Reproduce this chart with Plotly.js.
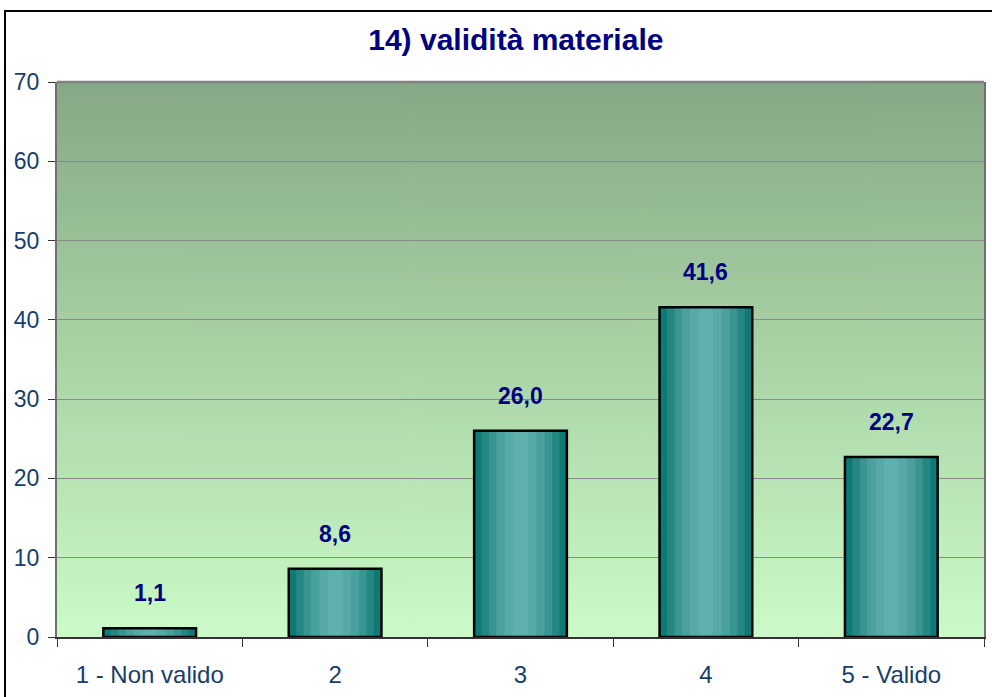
<!DOCTYPE html>
<html>
<head>
<meta charset="utf-8">
<script src="https://cdn.plot.ly/plotly-3.0.1.min.js"></script>
<style>
  body { margin: 0; background: #fff; }
  #chart { width: 992px; height: 697px; }
  #frame { position: absolute; left: 4px; top: 10px; width: 1000px; height: 700px;
           border: 2px solid #000; pointer-events: none; }
</style>
</head>
<body>
<div id="chart"></div>
<div id="frame"></div>
<script>
const categories = ['1 - Non valido', '2', '3', '4', '5 - Valido']
const values = [1.1, 8.6, 26.0, 41.6, 22.7]
const chartTitle = '14) validità materiale'

const sans = 'Liberation Sans, Arial'

// background gradient for the plot area
function makeGradient() {
    const c = document.createElement('canvas')
    c.width = 4
    c.height = 256
    const ctx = c.getContext('2d')
    const g = ctx.createLinearGradient(0, 0, 0, 256)
    g.addColorStop(0, 'rgb(134,168,134)')
    g.addColorStop(0.5, 'rgb(170,212,166)')
    g.addColorStop(1, 'rgb(204,250,200)')
    ctx.fillStyle = g
    ctx.fillRect(0, 0, 4, 256)
    return c.toDataURL()
}

// bars faked as a horizontal gradient: stacked overlay bars getting narrower and lighter
const bands = [
    { width: 0.5, color: '#0d7a76' },
    { width: 0.42, color: '#248783' },
    { width: 0.34, color: '#3a948f' },
    { width: 0.26, color: '#4aa09c' },
    { width: 0.17, color: '#56a9a5' },
    { width: 0.08, color: '#5fb0ac' }
]
const traces = bands.map(b => ({
    type: 'bar',
    x: categories,
    y: values,
    width: b.width,
    marker: { color: b.color, line: { width: 0 } },
    hoverinfo: 'skip'
}))
traces.push({
    type: 'bar',
    x: categories,
    y: values,
    width: 0.5,
    marker: { color: 'rgba(0,0,0,0)', line: { color: '#000', width: 2.5 } },
    hoverinfo: 'skip'
})

const fmt = v => v.toFixed(1).replace('.', ',')
const labels = categories.map((c, i) => ({
    x: i,
    y: values[i],
    text: '<b>' + fmt(values[i]) + '</b>',
    showarrow: false,
    yanchor: 'bottom',
    yshift: 20,
    font: { family: sans, size: 23, color: '#000080' }
}))

Plotly.newPlot(
    document.getElementById('chart'),
    traces,
    {
        width: 992,
        height: 697,
        margin: { l: 57, r: 8, t: 82, b: 60 },
        paper_bgcolor: '#fff',
        plot_bgcolor: 'rgba(0,0,0,0)',
        barmode: 'overlay',
        showlegend: false,
        title: {
            text: '<b>' + chartTitle + '</b>',
            font: { family: sans, size: 30, color: '#000080' },
            x: 0.52,
            xanchor: 'center',
            y: 0.943,
            yanchor: 'middle'
        },
        xaxis: {
            type: 'category',
            tickson: 'boundaries',
            ticks: 'outside',
            ticklen: 8,
            tickcolor: '#333',
            ticklabelstandoff: 16,
            showline: true,
            linecolor: '#333',
            linewidth: 1.5,
            showgrid: false,
            tickfont: { family: sans, size: 24, color: '#173d6b' }
        },
        yaxis: {
            range: [0, 70],
            dtick: 10,
            ticks: 'outside',
            ticklen: 7,
            tickcolor: '#333',
            ticklabelstandoff: 4,
            showline: true,
            mirror: true,
            linecolor: '#707070',
            linewidth: 2,
            gridcolor: '#8a8a8a',
            gridwidth: 1,
            zeroline: false,
            tickfont: { family: sans, size: 23, color: '#173d6b' }
        },
        images: [{
            source: makeGradient(),
            xref: 'paper', yref: 'paper',
            x: 0, y: 1, sizex: 1, sizey: 1,
            xanchor: 'left', yanchor: 'top',
            sizing: 'stretch',
            layer: 'below'
        }],
        shapes: [{
            type: 'line', xref: 'paper', yref: 'paper',
            x0: 0, x1: 1, y0: 1, y1: 1,
            line: { color: '#808080', width: 2.5 }
        }],
        annotations: labels
    },
    { staticPlot: true }
)
</script>
</body>
</html>
